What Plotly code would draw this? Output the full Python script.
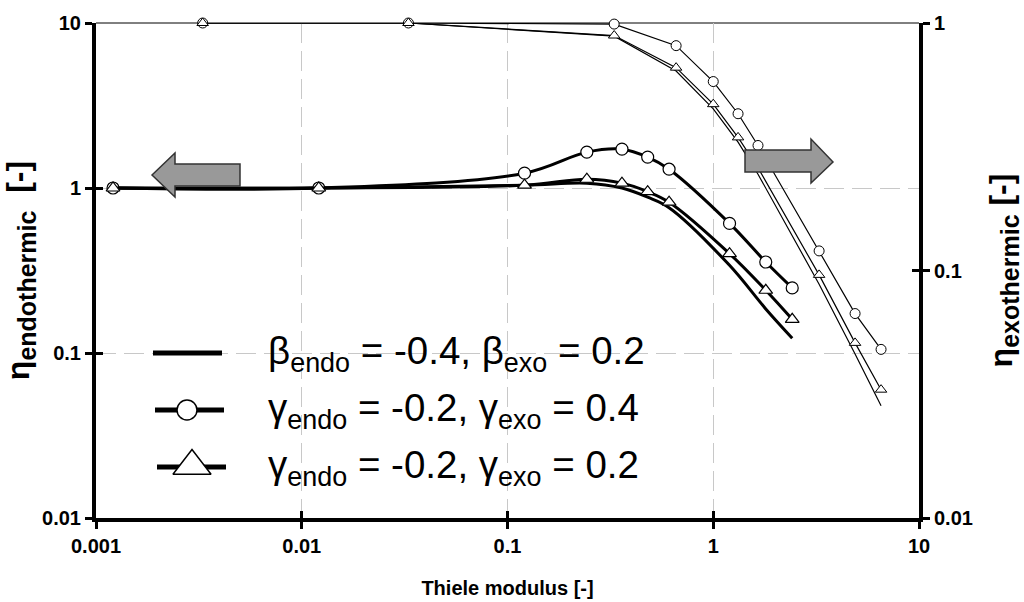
import plotly.graph_objects as go

# Thiele modulus values (x) for both reaction types
endo_x = [0.00121, 0.0121, 0.121, 0.243, 0.36, 0.48, 0.61, 1.2, 1.8, 2.42]
exo_x = [0.0033, 0.033, 0.33, 0.66, 1.0, 1.32, 1.65, 3.27, 4.89, 6.54]

# Effectiveness factors, endothermic reaction (left axis)
eta_endo_beta = [1.0, 1.0, 1.04, 1.07, 1.0, 0.88, 0.76, 0.34, 0.185, 0.123]
eta_endo_gamma04 = [1.0, 1.0, 1.23, 1.65, 1.72, 1.54, 1.30, 0.61, 0.356, 0.248]
eta_endo_gamma02 = [1.0, 1.0, 1.04, 1.13, 1.07, 0.95, 0.82, 0.40, 0.24, 0.16]

# Effectiveness factors, exothermic reaction (right axis)
eta_exo_beta = [1.0, 1.0, 0.885, 0.64, 0.45, 0.33, 0.245, 0.088, 0.046, 0.0284]
eta_exo_gamma04 = [1.0, 1.0, 0.99, 0.81, 0.58, 0.43, 0.32, 0.12, 0.067, 0.048]
eta_exo_gamma02 = [1.0, 1.0, 0.89, 0.66, 0.47, 0.345, 0.26, 0.096, 0.051, 0.033]

x_ticks = [0.001, 0.01, 0.1, 1, 10]
x_tick_labels = ["0.001", "0.01", "0.1", "1", "10"]
y_left_ticks = [0.01, 0.1, 1, 10]
y_left_labels = ["0.01", "0.1", "1", "10"]
y_right_ticks = [0.01, 0.1, 1]
y_right_labels = ["0.01", "0.1", "1"]

legend_labels = [
    "β<sub>endo</sub> = -0.4, β<sub>exo</sub> = 0.2",
    "γ<sub>endo</sub> = -0.2, γ<sub>exo</sub> = 0.4",
    "γ<sub>endo</sub> = -0.2, γ<sub>exo</sub> = 0.2",
]

FONT = "Liberation Sans, Arial, sans-serif"
BOLD = dict(family=FONT, size=20, color="black", weight="bold")
GRID = "#c8c8c8"

fig = go.Figure()

# --- endothermic curves: thick smoothed lines
fig.add_trace(go.Scatter(x=endo_x, y=eta_endo_beta, mode="lines",
                         line=dict(color="black", width=3, shape="spline"),
                         cliponaxis=False, showlegend=False, hoverinfo="skip"))
fig.add_trace(go.Scatter(x=endo_x, y=eta_endo_gamma04, mode="lines+markers",
                         line=dict(color="black", width=3, shape="spline"),
                         marker=dict(symbol="circle", size=12, color="white",
                                     line=dict(color="black", width=1.2)),
                         cliponaxis=False, showlegend=False, hoverinfo="skip"))
fig.add_trace(go.Scatter(x=endo_x, y=eta_endo_gamma02, mode="lines+markers",
                         line=dict(color="black", width=3, shape="spline"),
                         marker=dict(symbol="triangle-up", size=12, color="white",
                                     line=dict(color="black", width=1.2)),
                         cliponaxis=False, showlegend=False, hoverinfo="skip"))

# --- exothermic curves: thin lines on the right axis
fig.add_trace(go.Scatter(x=exo_x, y=eta_exo_beta, yaxis="y2", mode="lines",
                         line=dict(color="black", width=1.2),
                         cliponaxis=False, showlegend=False, hoverinfo="skip"))
fig.add_trace(go.Scatter(x=exo_x, y=eta_exo_gamma04, yaxis="y2", mode="lines+markers",
                         line=dict(color="black", width=1.2),
                         marker=dict(symbol="circle", size=10, color="white",
                                     line=dict(color="black", width=1)),
                         cliponaxis=False, showlegend=False, hoverinfo="skip"))
fig.add_trace(go.Scatter(x=exo_x, y=eta_exo_gamma02, yaxis="y2", mode="lines+markers",
                         line=dict(color="black", width=1.2),
                         marker=dict(symbol="triangle-up", size=10, color="white",
                                     line=dict(color="black", width=1)),
                         cliponaxis=False, showlegend=False, hoverinfo="skip"))

# empty traces so the inner-tick overlay axes are drawn
for xa, ya in (("x3", "y"), ("x", "y3"), ("x", "y4")):
    fig.add_trace(go.Scatter(x=[], y=[], xaxis=xa, yaxis=ya,
                             showlegend=False, hoverinfo="skip"))

# --- legend keys, on a pixel-scaled overlay (x5/y5)
key_rows = [353, 410, 467]
fig.add_trace(go.Scatter(x=[153, 222], y=[key_rows[0]] * 2, xaxis="x5", yaxis="y5",
                         mode="lines", line=dict(color="black", width=5),
                         showlegend=False, hoverinfo="skip"))
fig.add_trace(go.Scatter(x=[155, 224], y=[key_rows[1]] * 2, xaxis="x5", yaxis="y5",
                         mode="lines", line=dict(color="black", width=5),
                         showlegend=False, hoverinfo="skip"))
fig.add_trace(go.Scatter(x=[187], y=[key_rows[1]], xaxis="x5", yaxis="y5",
                         mode="markers",
                         marker=dict(symbol="circle", size=20, color="white",
                                     line=dict(color="black", width=1.5)),
                         showlegend=False, hoverinfo="skip"))
fig.add_trace(go.Scatter(x=[157, 226], y=[key_rows[2]] * 2, xaxis="x5", yaxis="y5",
                         mode="lines", line=dict(color="black", width=5),
                         showlegend=False, hoverinfo="skip"))
fig.add_trace(go.Scatter(x=[192], y=[key_rows[2] - 1], xaxis="x5", yaxis="y5",
                         mode="markers",
                         marker=dict(symbol="triangle-up", size=33, color="white",
                                     line=dict(color="black", width=1.5)),
                         showlegend=False, hoverinfo="skip"))

annotations = []
for label, row in zip(legend_labels, key_rows):
    annotations.append(dict(x=266, y=row, xref="x5", yref="y5", text=label,
                            showarrow=False, xanchor="left", yanchor="middle",
                            font=dict(family=FONT, size=38.5, color="black")))

# --- arrows pointing to the axis each group belongs to
arrow_style = dict(type="path", xref="x5", yref="y5", fillcolor="#999999",
                   line=dict(color="#333333", width=1.5), layer="above")
shapes = [
    dict(path="M152,175 L175,153 L175,164 L240,164 L240,186 L175,186 L175,197 Z",
         **arrow_style),
    dict(path="M833,162 L811,139 L811,150 L745,150 L745,172 L811,172 L811,183 Z",
         **arrow_style),
    # thin frame line along the top of the plot area
    dict(type="line", xref="paper", yref="paper", x0=0, x1=1, y0=1, y1=1,
         line=dict(color="black", width=1), layer="below"),
]

tick_common = dict(ticklen=7, tickwidth=3, tickcolor="black", automargin=False)
title_sub = "<sub><span style='font-size:25px'>{}</span></sub>"
# non-breaking padding after "[-]" sets the titles a little lower on the axis
pad = "\u00a0" * 6

fig.update_layout(
    width=1024, height=602,
    margin=dict(l=96, r=105, t=23, b=84),
    paper_bgcolor="white", plot_bgcolor="white",
    showlegend=False,
    xaxis=dict(type="log", range=[-3, 1], showline=True, linewidth=4, linecolor="black",
               ticks="outside", tickvals=x_ticks, ticktext=x_tick_labels,
               tickfont=BOLD, showgrid=True, gridcolor=GRID, gridwidth=1,
               griddash="20px,8px", zeroline=False,
               title=dict(text="Thiele modulus [-]", font=dict(BOLD, size=20), standoff=26),
               **tick_common),
    yaxis=dict(type="log", range=[-2, 1], showline=True, linewidth=4, linecolor="black",
               ticks="outside", tickvals=y_left_ticks, ticktext=y_left_labels,
               tickfont=BOLD, showgrid=True, gridcolor=GRID, gridwidth=1,
               griddash="20px,8px", zeroline=False,
               title=dict(text="η" + title_sub.format("endothermic") + "  [-]" + pad,
                          font=dict(BOLD, size=32), standoff=4),
               **tick_common),
    yaxis2=dict(type="log", range=[-2, 0], overlaying="y", side="right", anchor="x",
                showline=True, linewidth=4, linecolor="black", ticks="outside",
                tickvals=y_right_ticks, ticktext=y_right_labels, tickfont=BOLD,
                showgrid=False, zeroline=False,
                title=dict(text="η" + title_sub.format("exothermic") + " [-]" + pad,
                           font=dict(BOLD, size=32), standoff=20),
                **tick_common),
    xaxis3=dict(type="log", range=[-3, 1], overlaying="x", anchor="y", side="bottom",
                ticks="inside", tickvals=x_ticks, showticklabels=False,
                showgrid=False, showline=False, zeroline=False, **tick_common),
    yaxis3=dict(type="log", range=[-2, 1], overlaying="y", anchor="x", side="left",
                ticks="inside", tickvals=y_left_ticks, showticklabels=False,
                showgrid=False, showline=False, zeroline=False, **tick_common),
    yaxis4=dict(type="log", range=[-2, 0], overlaying="y", anchor="x", side="right",
                ticks="inside", tickvals=y_right_ticks, showticklabels=False,
                showgrid=False, showline=False, zeroline=False, **tick_common),
    xaxis5=dict(range=[96, 919], overlaying="x", anchor="y5", visible=False),
    yaxis5=dict(range=[518, 23], overlaying="y", anchor="x5", visible=False),
    annotations=annotations,
    shapes=shapes,
)

fig.write_html("out.html")
